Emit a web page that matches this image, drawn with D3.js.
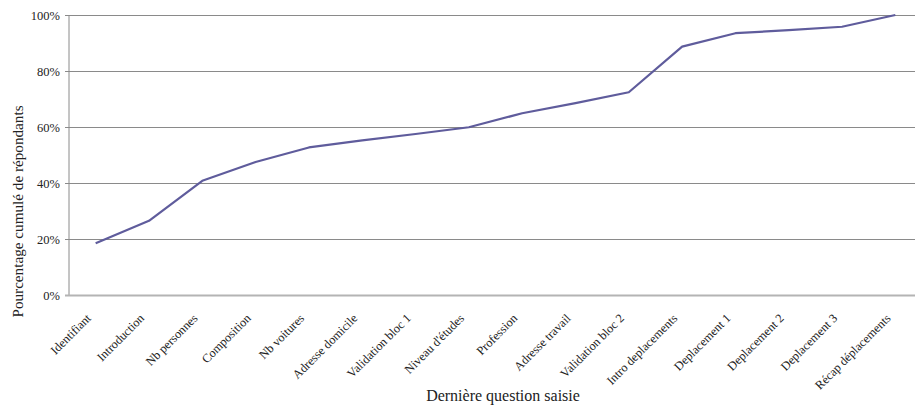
<!DOCTYPE html>
<html><head><meta charset="utf-8">
<script src="https://cdn.jsdelivr.net/npm/d3@7"></script>
<style>body{margin:0;background:#fff}svg{display:block;font-family:"Liberation Serif","Times New Roman",serif}</style>
</head><body><svg id="c" width="915" height="407"></svg>
<script>
const categories = ["Identifiant","Introduction","Nb personnes","Composition","Nb voitures","Adresse domicile","Validation bloc 1","Niveau d'études","Profession","Adresse travail","Validation bloc 2","Intro deplacements","Deplacement 1","Deplacement 2","Deplacement 3","Récap déplacements"];
const values = [18.5,26.5,40.8,47.5,52.7,55.2,57.5,59.9,64.9,68.5,72.4,88.7,93.5,94.6,95.8,100];
const yTicks = [0,20,40,60,80,100];

const svg = d3.select("#c");
const m = {left:69, top:15, right:922, bottom:295};
const x = d3.scalePoint().domain(categories).range([m.left, m.right]).padding(0.5);
const y = d3.scaleLinear().domain([0,100]).range([m.bottom, m.top]);

// gridlines
svg.append("g").selectAll("line").data(yTicks.filter(d=>d>0)).join("line")
  .attr("x1", m.left).attr("x2", m.right).attr("y1", d=>y(d)).attr("y2", d=>y(d))
  .attr("stroke","#8a8a8a").attr("stroke-width",1).attr("shape-rendering","crispEdges");

// y axis
const ya = svg.append("g").attr("transform",`translate(${m.left},0)`)
  .call(d3.axisLeft(y).tickValues(yTicks).tickFormat(d=>d+"%").tickSize(4).tickPadding(5));
ya.select(".domain").attr("stroke","#8a8a8a").attr("d",`M0,${m.top}V${m.bottom}`);
ya.selectAll(".tick line").attr("stroke","#8a8a8a");
ya.selectAll("text").attr("font-size",12.5).attr("fill","#222").attr("font-family","Liberation Serif");

// x axis
svg.append("line").attr("x1",m.left-4).attr("x2",m.right).attr("y1",y(0)+0.5).attr("y2",y(0)+0.5)
  .attr("stroke","#b4b4b4").attr("stroke-width",2);

svg.append("g").selectAll("text").data(categories).join("text")
  .attr("transform", d=>`translate(${x(d)-4},${y(0)+24}) rotate(-45)`)
  .attr("text-anchor","end").attr("font-size",12.3).attr("fill","#222").text(d=>d);

// line
svg.append("path").datum(values)
  .attr("d", d3.line().x((d,i)=>x(categories[i])).y(d=>y(d)))
  .attr("fill","none").attr("stroke","#5f5c9c").attr("stroke-width",2.2).attr("stroke-linejoin","round");

// titles
svg.append("text").attr("x",503).attr("y",401).attr("text-anchor","middle").attr("font-size",16).attr("fill","#222").text("Dernière question saisie");
svg.append("text").attr("transform",`translate(23,211.5) rotate(-90)`)
  .attr("text-anchor","middle").attr("font-size",15.2).attr("fill","#222").text("Pourcentage cumulé de répondants");
</script></body></html>
